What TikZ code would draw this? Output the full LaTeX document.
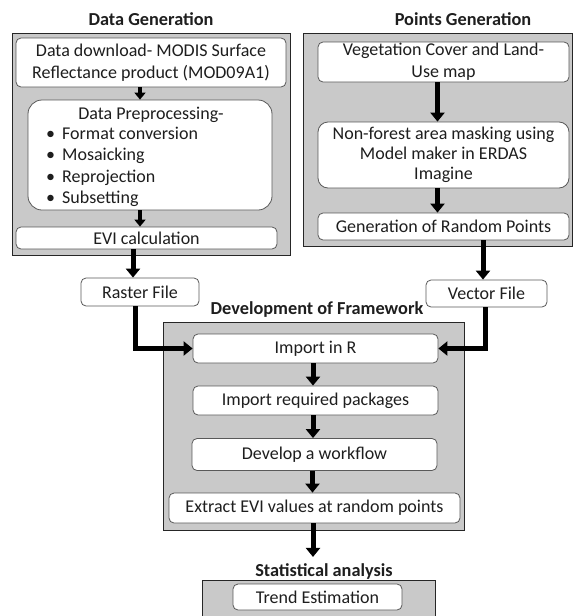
\documentclass[tikz,border=0pt]{standalone}
\usepackage{fontspec}
\setmainfont{Carlito}
\usetikzlibrary{arrows.meta}
\definecolor{panelgray}{RGB}{201,201,201}
\definecolor{ink}{RGB}{30,30,30}
\begin{document}
\begin{tikzpicture}[x=1pt,y=-1pt,
  panel/.style={draw=black!85, fill=panelgray, line width=0.8pt, inner sep=0pt},
  box/.style={draw=black!65, fill=white, rounded corners=5pt, line width=0.8pt, inner sep=0pt,
    font=\fontsize{18}{22}\selectfont, text=ink, align=center},
  ttl/.style={font=\bfseries\fontsize{18.3}{20}\selectfont, text=ink, inner sep=0pt},
  txt/.style={font=\fontsize{18}{21.3}\selectfont, text=ink, inner sep=0pt},
  bigarrow/.style={line width=5pt, -{Triangle[width=14pt,length=9pt]}},
  smallarrow/.style={line width=4pt, -{Triangle[width=11pt,length=7pt]}},
]
\useasboundingbox (0,0) rectangle (576,616);
\clip (0,0) rectangle (576,616);

% ---------- Data Generation ----------
\node[ttl] (tdg) at (151,19) {Data Generation};
\node[panel, minimum width=278pt, minimum height=222pt] (pdg) at (151,144) {};
\node[box, minimum width=270pt, minimum height=49pt] (dl) at (151,62.5)
  {Data download- MODIS Surface\\Reflectance product (MOD09A1)};
\node[box, rounded corners=14pt, minimum width=244pt, minimum height=110pt] (pre) at (150,155) {};
\node[txt] (pretitle) at (151,115) {Data Preprocessing-};
\node[txt, anchor=west, align=left] (prelist) at (46,167)
  {\textbullet\hspace{7pt}Format conversion\\
   \textbullet\hspace{7pt}Mosaicking\\
   \textbullet\hspace{7pt}Reprojection\\
   \textbullet\hspace{7pt}Subsetting};
\node[box, minimum width=261pt, minimum height=22pt] (evi) at (146.5,238) {EVI calculation};

% ---------- Points Generation ----------
\node[ttl] (tpg) at (463,19) {Points Generation};
\node[panel, minimum width=269pt, minimum height=213pt] (ppg) at (437.5,139.5) {};
\node[box, minimum width=251pt, minimum height=40pt] (veg) at (443.5,62)
  {Vegetation Cover and Land-\\Use map};
\node[box, rounded corners=10pt, minimum width=251pt, minimum height=66pt,
      font=\fontsize{18}{20}\selectfont] (nf) at (443.5,155)
  {Non-forest area masking using\\Model maker in ERDAS\\Imagine};
\node[box, minimum width=251pt, minimum height=27pt] (gen) at (443.5,226.5) {Generation of Random Points};

% ---------- files ----------
\node[box, minimum width=118pt, minimum height=28pt] (ras) at (140,292) {Raster File};
\node[box, minimum width=121pt, minimum height=27pt] (vec) at (486.5,293.5) {Vector File};

% ---------- Development of Framework ----------
\node[ttl] (tdf) at (317,310) {Development of Framework};
\node[panel, minimum width=301pt, minimum height=208pt] (pdf) at (313.5,426) {};
\node[box, minimum width=245pt, minimum height=29pt] (imp) at (315.5,348.5) {Import in R};
\node[box, minimum width=245pt, minimum height=29pt] (pkg) at (315.5,400.5) {Import required packages};
\node[box, minimum width=245pt, minimum height=32pt] (wf) at (314.5,454.5) {Develop a workflow};
\node[box, minimum width=291pt, minimum height=30pt] (ext) at (314.5,508)
  {Extract EVI values at random points};

% ---------- Statistical analysis ----------
\node[ttl] (tsa) at (324,571) {Statistical analysis};
\node[panel, minimum width=233pt, minimum height=50pt] (psa) at (318.5,605) {};
\node[box, minimum width=169pt, minimum height=26pt] (trend) at (317.5,597) {Trend Estimation};

% ---------- connectors ----------
\draw[smallarrow] ([xshift=-11pt]dl.south) -- ([xshift=-11pt]dl.south |- pre.north);
\draw[smallarrow] ([xshift=-10pt]pre.south) -- ([xshift=-10pt]pre.south |- evi.north);
\draw[bigarrow] ([xshift=-13.5pt]evi.south) -- ([xshift=-13.5pt]evi.south |- ras.north);
\draw[bigarrow] ([xshift=-6pt]veg.south) -- ([xshift=-6pt]veg.south |- nf.north);
\draw[bigarrow] ([xshift=-6pt]nf.south) -- ([xshift=-6pt]nf.south |- gen.north);
\draw[bigarrow] ([xshift=39.5pt]gen.south) -- ([xshift=39.5pt]gen.south |- vec.north);
\draw[bigarrow] ([xshift=-5pt]ras.south) |- (imp.west);
\draw[bigarrow] ([xshift=-1.5pt]vec.south) |- (imp.east);
\draw[bigarrow] ([xshift=-2.5pt]imp.south) -- ([xshift=-2.5pt]imp.south |- pkg.north);
\draw[bigarrow] ([xshift=-2.5pt]pkg.south) -- ([xshift=-2.5pt]pkg.south |- wf.north);
\draw[bigarrow] ([xshift=-2pt]wf.south) -- ([xshift=-2pt]wf.south |- ext.north);
\draw[bigarrow] ([xshift=-1.5pt]ext.south) -- ([xshift=-1.5pt,yshift=6pt]ext.south |- tsa.north);
\end{tikzpicture}
\end{document}
